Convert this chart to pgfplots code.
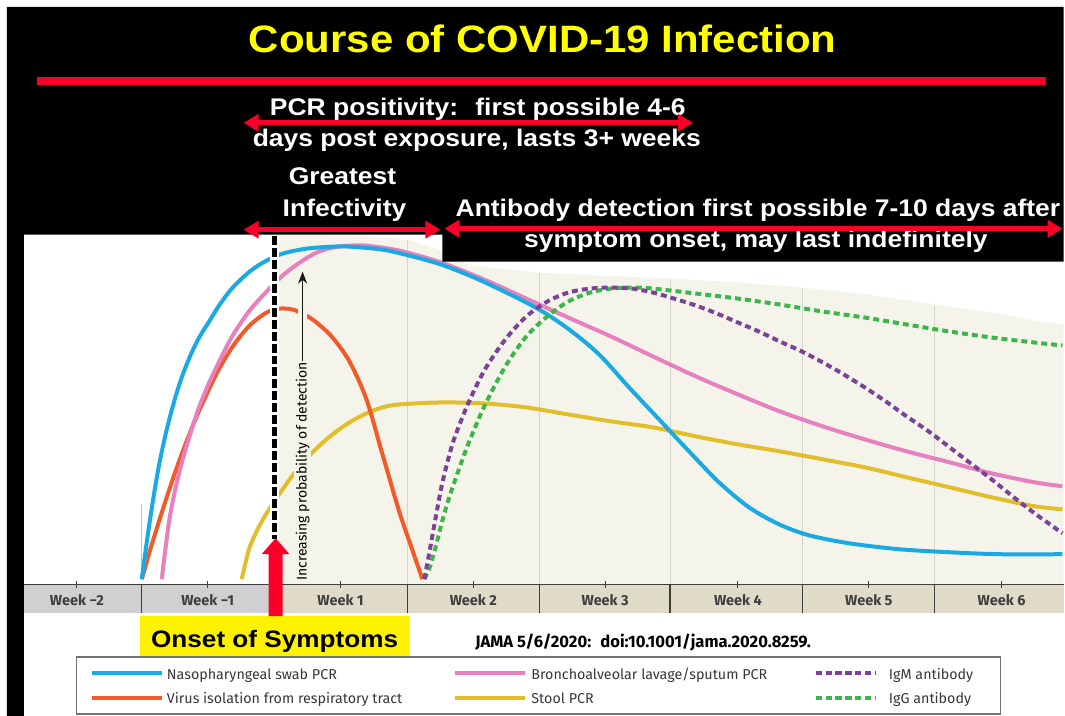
\documentclass[border=0pt]{standalone}
\usepackage{fontspec}
\usepackage{graphicx}
\usepackage{pgfplots}
\usepackage{pgfplotstable}
\pgfplotsset{compat=1.18}
\usetikzlibrary{arrows.meta}
\setmainfont{Liberation Sans}
\newfontfamily\hfont[FakeStretch=1.1]{Liberation Sans}
\newfontfamily\ffont{Fira Sans}

\definecolor{cBlue}{RGB}{27,169,228}
\definecolor{cPink}{RGB}{230,128,190}
\definecolor{cOrange}{RGB}{241,90,41}
\definecolor{cYellow}{RGB}{226,190,42}
\definecolor{cPurple}{RGB}{123,67,151}
\definecolor{cGreen}{RGB}{61,181,74}
\definecolor{cBeige}{RGB}{245,244,235}
\definecolor{cBand}{RGB}{224,219,200}
\definecolor{cBandGray}{RGB}{208,208,210}
\definecolor{cRed}{RGB}{250,0,40}
\definecolor{cTitle}{RGB}{255,255,0}
\definecolor{cGrid}{RGB}{212,212,205}
\definecolor{cDark}{RGB}{62,62,62}
\definecolor{cLeg}{RGB}{55,55,55}

% x = days since symptom onset, p = relative probability of detection (peak = 100)
\pgfplotstableread{
d p
-7.026 0
-6.815 9.01
-6.604 17.42
-6.339 27.03
-6.075 35.44
-5.706 45.05
-5.283 54.05
-4.860 61.56
-4.385 68.17
-3.962 72.97
-3.434 77.78
-2.906 82.58
-2.219 87.69
-1.321 92.49
-0.528 95.50
0.423 97.90
1.691 99.40
3.064 100
3.962 100
5.706 99.10
7.132 97.30
8.822 94.59
10.566 90.69
12.256 86.19
14.000 81.08
15.585 75.08
17.169 67.57
18.754 57.66
20.339 48.05
21.924 38.44
23.509 29.13
25.094 21.62
26.678 16.52
28.264 13.21
30.377 10.81
33.018 9.01
35.660 8.11
38.301 7.51
41.682 7.51
}\blueTab
\pgfplotstableread{
d p
-5.970 0
-5.811 7.51
-5.547 18.62
-5.230 27.63
-4.860 36.04
-4.385 45.05
-3.962 52.25
-3.434 59.46
-2.906 65.77
-2.219 73.27
-1.321 80.78
-0.423 86.49
0.423 91.29
1.321 95.20
2.219 98.20
3.064 99.70
3.962 100.30
4.860 100.30
6.604 98.80
8.822 95.20
11.094 90.09
13.313 84.38
15.532 78.68
17.803 72.97
20.022 66.97
22.294 60.96
24.513 55.56
26.731 50.45
29.003 45.95
31.222 42.04
33.441 38.44
35.713 35.14
37.931 31.83
40.203 29.13
41.682 27.93
}\pinkTab
\pgfplotstableread{
d p
-7.026 0
-6.815 4.20
-6.604 8.41
-6.181 16.22
-5.706 24.62
-5.283 31.83
-4.860 38.44
-4.385 45.35
-3.962 51.05
-3.064 61.86
-2.219 69.97
-1.321 76.28
-0.423 80.18
0.264 81.38
0.951 81.08
1.585 79.58
2.219 77.18
3.064 72.67
3.962 65.47
4.860 54.05
5.706 37.54
6.604 20.12
7.238 9.61
7.819 0
}\orangeTab
\pgfplotstableread{
d p
-1.743 0
-1.532 5.11
-1.321 9.61
-0.898 15.02
-0.423 19.82
0.423 27.03
1.321 33.93
2.219 39.34
3.064 43.54
3.962 47.15
4.860 49.85
5.706 51.65
6.604 52.55
8.822 53.15
11.094 52.85
13.313 51.65
15.532 49.55
17.803 47.45
20.022 45.65
22.294 42.94
24.513 40.54
26.731 38.44
29.003 36.04
31.222 33.63
33.441 30.63
35.713 27.63
37.931 24.62
40.203 21.92
41.682 21.02
}\yellowTab
\pgfplotstableread{
d p
7.924 0
8.189 8.11
8.400 14.71
8.611 21.32
8.822 27.63
9.139 35.14
9.509 42.34
10.196 52.25
11.094 62.76
12.204 72.07
13.313 78.98
14.422 83.48
15.532 86.19
16.694 87.39
17.803 87.69
18.913 87.39
20.022 86.19
21.131 84.38
22.294 82.28
23.403 79.88
24.513 77.18
25.622 74.47
26.731 71.47
27.894 68.47
29.003 65.17
30.113 61.56
31.222 57.66
32.332 53.45
33.441 48.95
34.603 44.44
35.713 39.64
36.822 34.83
37.931 30.03
39.041 24.92
40.203 19.82
41.682 13.81
}\igmTab
\pgfplotstableread{
d p
7.924 0
8.189 3.30
8.400 7.21
8.611 11.71
8.822 16.52
9.139 22.82
9.509 29.13
10.196 39.94
11.094 51.95
12.204 63.96
13.313 72.97
14.422 78.98
15.532 83.48
16.694 86.19
17.803 87.39
18.913 87.69
20.022 87.39
22.294 85.89
24.513 84.38
26.731 82.58
29.003 80.48
31.222 78.68
33.441 76.58
35.713 74.47
37.931 72.67
40.203 71.17
41.682 70.27
}\iggTab

\pgfplotsset{pix/.style={width=1065pt,height=717pt,scale only axis,hide axis,clip=false,
  xmin=0,xmax=1065,ymin=0,ymax=717,y dir=reverse}}
\tikzset{rarr/.style={cRed,line width=5pt,{Triangle[length=15pt,width=17pt]}-{Triangle[length=15pt,width=17pt]}},
  wt/.style={anchor=base,text=white,font=\hfont\bfseries\fontsize{24.1}{26}\selectfont}}

\begin{document}
\begin{tikzpicture}
% ---------- background layer (pixel coordinates) ----------
\begin{axis}[pix]
\fill[white] (axis cs:0,0) rectangle (axis cs:1065,717);
\fill[cBeige] (axis cs:275,236) -- (axis cs:330,236) -- (axis cs:380,237) -- (axis cs:408,240)
  -- (axis cs:440,250) -- (axis cs:470,266) -- (axis cs:540,273) -- (axis cs:600,276)
  -- (axis cs:672,279) -- (axis cs:740,283) -- (axis cs:804,288) -- (axis cs:870,295)
  -- (axis cs:936,305) -- (axis cs:1000,314) -- (axis cs:1040,322) -- (axis cs:1065,325)
  -- (axis cs:1065,585) -- (axis cs:275,585) -- cycle;
\draw[cGrid,line width=1pt] (axis cs:408,240) -- (axis cs:408,585);
\draw[cGrid,line width=1pt] (axis cs:540,273) -- (axis cs:540,585);
\draw[cGrid,line width=1pt] (axis cs:671,279) -- (axis cs:671,585);
\draw[cGrid,line width=1pt] (axis cs:804,288) -- (axis cs:804,585);
\draw[cGrid,line width=1pt] (axis cs:936,305) -- (axis cs:936,585);
\draw[black!25,line width=0.8pt] (axis cs:142,505) -- (axis cs:142,580);
\end{axis}

% ---------- data layer ----------
\begin{axis}[width=1065pt,height=717pt,scale only axis,hide axis,clip=false,
  xmin=-14.528,xmax=41.735,ymin=-41.14,ymax=174.17]
\addplot[cYellow,line width=4pt,smooth,tension=0.5] table[x=d,y=p]{\yellowTab};
\addplot[cOrange,line width=4pt,smooth,tension=0.5] table[x=d,y=p]{\orangeTab};
\addplot[cPink,line width=4pt,smooth,tension=0.5] table[x=d,y=p]{\pinkTab};
\addplot[cBlue,line width=4pt,smooth,tension=0.5] table[x=d,y=p]{\blueTab};
\addplot[cGreen,line width=4pt,dash pattern=on 6pt off 4pt,smooth,tension=0.5] table[x=d,y=p]{\iggTab};
\addplot[cPurple,line width=4pt,dash pattern=on 6pt off 4pt,smooth,tension=0.5] table[x=d,y=p]{\igmTab};
\end{axis}

% ---------- foreground layer (pixel coordinates) ----------
\begin{axis}[pix]
% week band
\fill[cBandGray] (axis cs:24,585) rectangle (axis cs:275,614);
\fill[cBand] (axis cs:275,585) rectangle (axis cs:1065,614);
\draw[cDark,line width=1.3pt] (axis cs:24,585) -- (axis cs:1065,585);
\pgfplotsinvokeforeach{142,408,540,671,804,936}{\draw[cDark,line width=1.2pt] (axis cs:#1,585) -- (axis cs:#1,614);}
\pgfplotsinvokeforeach{77,208,341,474,606,739,870,1003}{\draw[cDark,line width=1pt] (axis cs:#1,582) -- (axis cs:#1,589);}
\begin{scope}[every node/.style={anchor=base,text=cDark,font=\ffont\bfseries\fontsize{14.5}{16}\selectfont}]
\node at (axis cs:77,606) {Week −2};
\node at (axis cs:208,606) {Week −1};
\node at (axis cs:341,606) {Week 1};
\node at (axis cs:474,606) {Week 2};
\node at (axis cs:606,606) {Week 3};
\node at (axis cs:739,606) {Week 4};
\node at (axis cs:870,606) {Week 5};
\node at (axis cs:1003,606) {Week 6};
\end{scope}
% increasing probability arrow
\draw[cBeige,line width=9pt] (axis cs:303,363) -- (axis cs:303,285);
\draw[black!90,line width=1.6pt,-{Stealth[length=12pt,width=9pt]}] (axis cs:303,363) -- (axis cs:303,272);
\node[rotate=90,fill=cBeige,inner sep=1.5pt,text=black,font=\ffont\fontsize{14}{16}\selectfont] at (axis cs:303,472) {Increasing probability of detection};
% onset dashed line
\draw[white,line width=9pt] (axis cs:275,236) -- (axis cs:275,540);
\draw[black,line width=5pt,dash pattern=on 9pt off 3pt] (axis cs:275,236) -- (axis cs:275,540);
% yellow box
\fill[yellow] (axis cs:140,617) rectangle (axis cs:411,658);
\node[anchor=base,text=black,font=\hfont\bfseries\fontsize{23.8}{26}\selectfont] at (axis cs:275,648) {Onset of Symptoms};
% red onset arrow
\fill[cRed] (axis cs:269,617) -- (axis cs:269,555) -- (axis cs:262,555) -- (axis cs:276,539)
  -- (axis cs:290,555) -- (axis cs:283,555) -- (axis cs:283,617) -- cycle;
% black header
\fill[black] (axis cs:7,7) -- (axis cs:1065,7) -- (axis cs:1065,262) -- (axis cs:443,262)
  -- (axis cs:443,235) -- (axis cs:24,235) -- (axis cs:24,717) -- (axis cs:7,717) -- cycle;
\node[anchor=base,text=cTitle,font=\hfont\bfseries\fontsize{38.2}{40}\selectfont] at (axis cs:543.5,53) {Course of COVID-19 Infection};
\draw[cRed,line width=8pt] (axis cs:37,81.5) -- (axis cs:1047,81.5);
\node[wt] at (axis cs:478.5,116) {PCR positivity:~ first possible 4-6};
\node[wt] at (axis cs:477.5,147) {days post exposure, lasts 3+ weeks};
\draw[rarr] (axis cs:244,123) -- (axis cs:694,123);
\node[wt] at (axis cs:343,185) {Greatest};
\node[wt] at (axis cs:345,217) {Infectivity};
\node[wt] at (axis cs:759,217) {Antibody detection first possible 7-10 days after};
\node[wt] at (axis cs:757,248) {symptom onset, may last indefinitely};
\draw[rarr] (axis cs:244,230) -- (axis cs:441,230);
\draw[rarr] (axis cs:445,229) -- (axis cs:1064,229);
% citation
\node[anchor=base,inner sep=0pt,text=black] at (axis cs:644,648) {\resizebox{336pt}{!}{\ffont\bfseries JAMA 5/6/2020:~ doi:10.1001/jama.2020.8259.}};
% legend
\draw[black!55,line width=1.2pt,fill=white] (axis cs:77,658) rectangle (axis cs:1002,715);
\draw[cBlue,line width=4pt] (axis cs:92,674) -- (axis cs:162,674);
\draw[cOrange,line width=4pt] (axis cs:92,699) -- (axis cs:162,699);
\draw[cPink,line width=4pt] (axis cs:456,674) -- (axis cs:526,674);
\draw[cYellow,line width=4pt] (axis cs:456,699) -- (axis cs:526,699);
\draw[cPurple,line width=4pt,dash pattern=on 6.5pt off 3.3pt] (axis cs:817,674) -- (axis cs:876,674);
\draw[cGreen,line width=4pt,dash pattern=on 6.5pt off 3.3pt] (axis cs:817,699) -- (axis cs:876,699);
\begin{scope}[every node/.style={anchor=base west,inner sep=0pt,text=cLeg,font=\ffont\fontsize{14.3}{16}\selectfont}]
\node at (axis cs:167,680) {Nasopharyngeal swab PCR};
\node at (axis cs:167,704) {Virus isolation from respiratory tract};
\node at (axis cs:532,680) {Bronchoalveolar lavage/sputum PCR};
\node at (axis cs:532,704) {Stool PCR};
\node at (axis cs:890,680) {IgM antibody};
\node at (axis cs:890,704) {IgG antibody};
\end{scope}
\end{axis}
\end{tikzpicture}
\end{document}
